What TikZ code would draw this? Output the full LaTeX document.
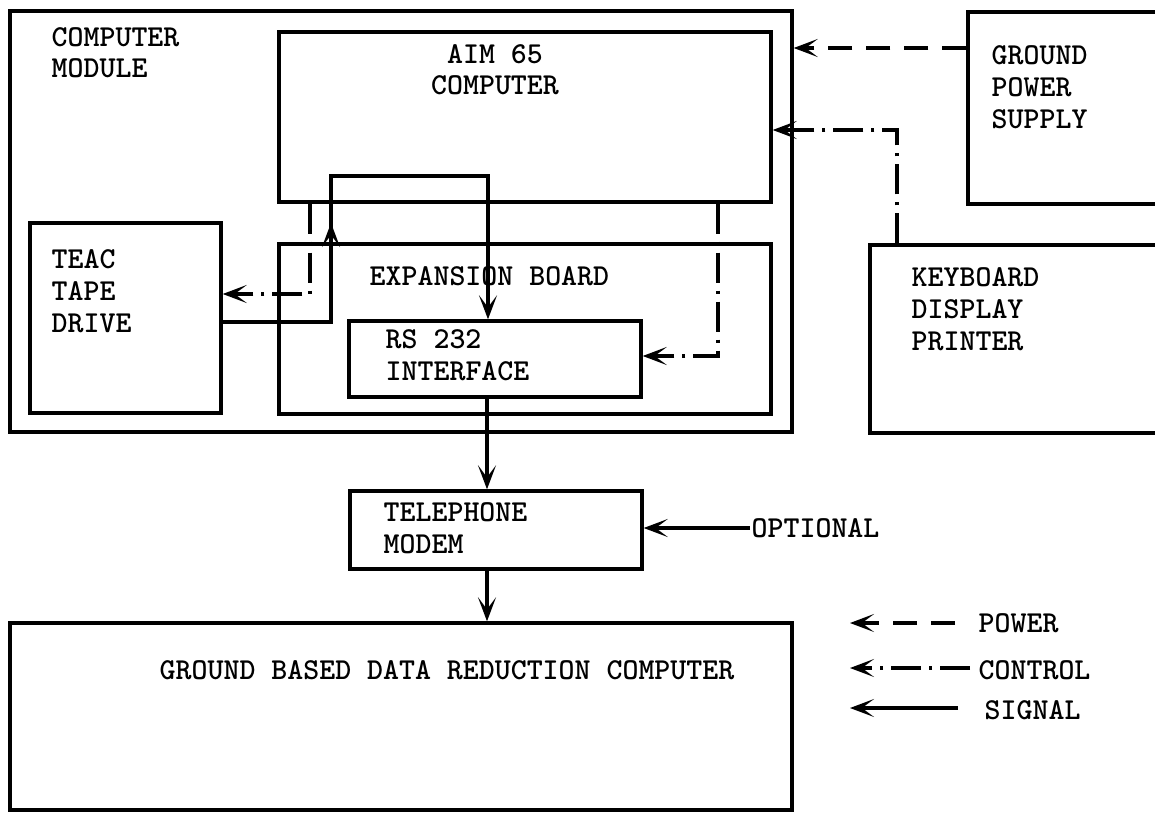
\documentclass[tikz,border=0pt]{standalone}
\usetikzlibrary{arrows.meta,fit}
\begin{document}
\begin{tikzpicture}[x=0.5pt,y=-0.5pt,
  line width=1.7pt,
  box/.style={draw, rectangle, inner sep=0pt},
  txt/.style={inner sep=0pt, anchor=base west, align=left, font=\fontsize{15.2}{15.9}\selectfont\ttfamily\bfseries},
  ctxt/.style={txt, anchor=base, align=center},
  tip/.style={-{Stealth[length=12pt,width=9pt,inset=6pt]}},
  sig/.style={tip},
  pw/.style={tip, dash pattern=on 12pt off 7pt},
  ctl/.style={tip, dash pattern=on 15pt off 4pt on 1.5pt off 4pt},
]
\clip (0,0) rectangle (1155,813);
\fill[white] (0,0) rectangle (1155,813);
% boxes
\node[box, fit={(10,11) (792,432)}] (module) {};
\node[box, fit={(279,32) (771,202)}] (aim) {};
\node[box, fit={(30,223) (221,413)}] (teac) {};
\node[box, fit={(279,244) (771,414)}] (exp) {};
\node[box, fit={(349,321) (641,397)}] (rs) {};
\node[box, fit={(968,12) (1170,204)}] (gps) {};
\node[box, fit={(870,245) (1170,433)}] (kbd) {};
\node[box, fit={(350,491) (642,569)}] (modem) {};
\node[box, fit={(10,623) (792,810)}] (gbdr) {};
% texts (anchor = baseline of last line)
\node[txt] (tmodule) at (50,78) {COMPUTER\\MODULE};
\node[ctxt] (taim) at (495,95) {AIM 65\\COMPUTER};
\node[txt] (tteac) at (50,332) {TEAC\\TAPE\\DRIVE};
\node[txt] (texp) at (368,285) {EXPANSION BOARD};
\node[txt] (trs) at (384,380) {RS 232\\INTERFACE};
\node[txt] (tgps) at (990,128) {GROUND\\POWER\\SUPPLY};
\node[txt] (tkbd) at (910,350) {KEYBOARD\\DISPLAY\\PRINTER};
\node[txt] (tmodem) at (382,553) {TELEPHONE\\MODEM};
\node[txt] (topt) at (750,537) {OPTIONAL};
\node[txt] (tgbdr) at (158,679) {GROUND BASED DATA REDUCTION COMPUTER};
\node[txt] (lpow) at (977,632) {POWER};
\node[txt] (lctl) at (977,679) {CONTROL};
\node[txt] (lsig) at (983,719) {SIGNAL};
% connectors
\draw[pw] (gps.west |- 0,48) -- (module.east |- 0,48);
\draw[ctl] (kbd.north -| 897,0) -- (897,130) -- (aim.east |- 0,130);
\draw[ctl] (aim.south -| 718,0) -- (718,356) -- (rs.east |- 0,356);
\draw[ctl] (aim.south -| 310,0) -- (310,294) -- (teac.east |- 0,294);
\draw[sig] (teac.east |- 0,322) -- (331,322) -- (331,176) -- (488,176) -- (rs.north -| 488,0);
\draw[sig] (331,262) -- (331,223);
\draw[sig] (rs.south -| 487,0) -- (modem.north -| 487,0);
\draw[sig] (modem.south -| 487,0) -- (gbdr.north -| 487,0);
\draw[sig] (topt.west |- 0,528) -- (modem.east |- 0,528);
% legend
\coordinate (lp1) at (955,623);
\coordinate (lp2) at (850,623);
\coordinate (lc1) at (970,668);
\coordinate (lc2) at (850,668);
\coordinate (ls1) at (958,708);
\coordinate (ls2) at (850,708);
\draw[pw] (lp1) -- (lp2);
\draw[ctl] (lc1) -- (lc2);
\draw[sig] (ls1) -- (ls2);
\end{tikzpicture}
\end{document}
